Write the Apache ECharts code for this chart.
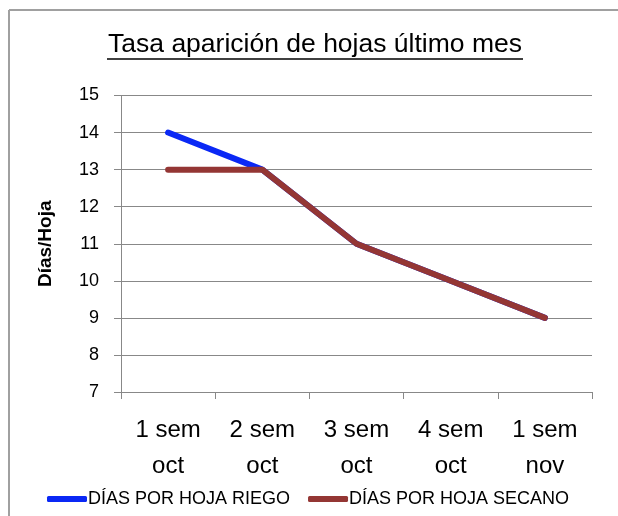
<!DOCTYPE html>
<html>
<head>
<meta charset="utf-8">
<script src="https://cdn.jsdelivr.net/npm/echarts@6/dist/echarts.min.js"></script>
<style>
html,body{margin:0;padding:0;background:#fff;overflow:hidden;}
#chart{width:618px;height:516px;}
</style>
</head>
<body>
<div id="chart"></div>
<script>
const titleText = 'Tasa aparición de hojas último mes';
const categories = ['1 sem\noct', '2 sem\noct', '3 sem\noct', '4 sem\noct', '1 sem\nnov'];
const riego = [14, 13, 11, 10, 9];
const secano = [13, 13, 11, 10, 9];
const seriesNames = ['DÍAS POR HOJA RIEGO', 'DÍAS POR HOJA SECANO'];
const yName = 'Días/Hoja';
const yMin = 7, yMax = 15, yStep = 1;

const FONT = 'Liberation Sans';
const chart = echarts.init(document.getElementById('chart'));
chart.setOption({
  animation: false,
  backgroundColor: '#fff',
  textStyle: { fontFamily: FONT },
  title: {
    text: titleText,
    left: 315,
    textAlign: 'center',
    top: 31,
    padding: 0,
    textStyle: { fontFamily: FONT, fontSize: 26.5, fontWeight: 'normal', color: '#000' }
  },
  graphic: [
    { type: 'line', shape: { x1: 9, y1: 10, x2: 618, y2: 10 }, style: { stroke: '#a0a0a0', lineWidth: 2 }, silent: true, z: -10 },
    { type: 'line', shape: { x1: 9, y1: 10, x2: 9, y2: 516 }, style: { stroke: '#a0a0a0', lineWidth: 2 }, silent: true, z: -10 },
    { type: 'line', shape: { x1: 107, y1: 59, x2: 523, y2: 59 }, style: { stroke: '#000', lineWidth: 1.3 }, silent: true }
  ],
  grid: { left: 121, right: 26, top: 95.5, bottom: 124, containLabel: false },
  legend: {
    left: 47,
    top: 490,
    padding: 0,
    itemWidth: 40,
    itemHeight: 6,
    itemGap: 18,
    icon: 'roundRect',
    textStyle: { fontFamily: FONT, fontSize: 18, color: '#000', padding: [0, 0, 0, -4] },
    data: seriesNames
  },
  xAxis: {
    type: 'category',
    data: categories,
    boundaryGap: true,
    axisLine: { lineStyle: { color: '#888', width: 1 } },
    axisTick: { show: true, length: 7, alignWithLabel: false, lineStyle: { color: '#888' } },
    axisLabel: { fontFamily: FONT, fontSize: 24, color: '#000', lineHeight: 36, margin: 20, interval: 0 },
    splitLine: { show: false }
  },
  yAxis: {
    type: 'value',
    min: yMin, max: yMax, interval: yStep,
    name: yName,
    nameLocation: 'middle',
    nameRotate: 90,
    nameGap: 66,
    nameTextStyle: { fontFamily: FONT, fontSize: 19, fontWeight: 'bold', color: '#000' },
    axisLine: { show: true, lineStyle: { color: '#888', width: 1 } },
    axisTick: { show: true, length: 7, lineStyle: { color: '#888' } },
    axisLabel: { fontFamily: FONT, fontSize: 18, color: '#000', margin: 22 },
    splitLine: { show: true, lineStyle: { color: '#888', width: 1 } }
  },
  series: [
    {
      name: seriesNames[0], type: 'line', data: riego, symbol: 'none',
      color: '#0a28f5',
      lineStyle: { width: 6, color: '#0a28f5', cap: 'round', join: 'round' },
      itemStyle: { color: '#0a28f5' }, z: 2
    },
    {
      name: seriesNames[1], type: 'line', data: secano, symbol: 'none',
      color: '#943634',
      lineStyle: { width: 6, color: '#943634', cap: 'round', join: 'round' },
      itemStyle: { color: '#943634' }, z: 3
    }
  ]
});
</script>
</body>
</html>
